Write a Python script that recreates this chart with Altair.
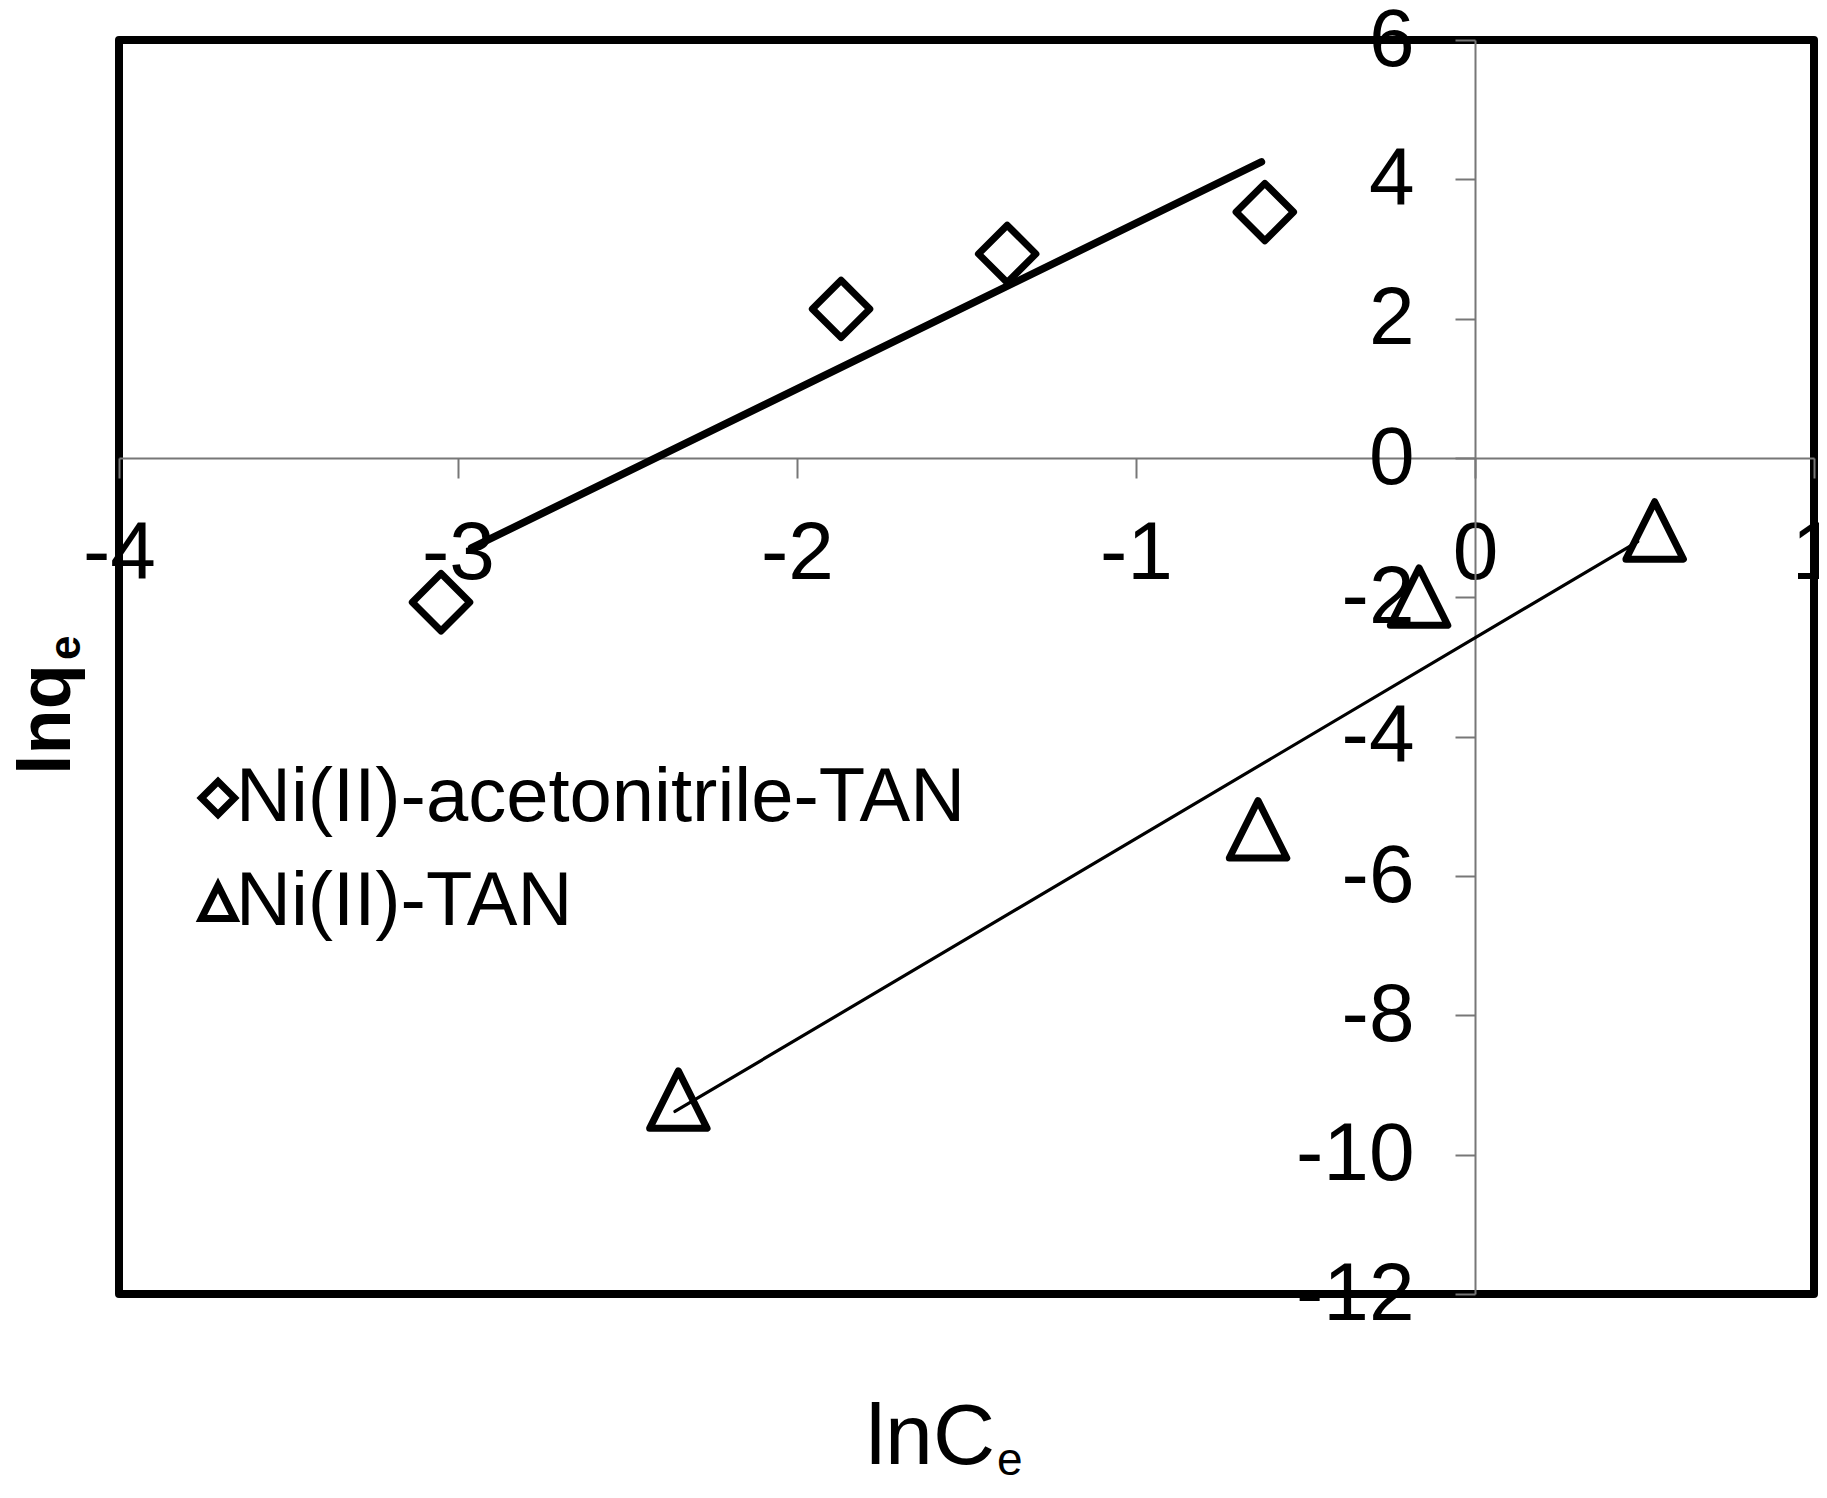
import altair as alt
import pandas as pd

# ---- data ----
series = ["Ni(II)-acetonitrile-TAN", "Ni(II)-TAN"]
acn_x = [-3.05, -1.87, -1.38, -0.62]
acn_y = [-2.07, 2.14, 2.93, 3.53]
tan_x = [-2.35, -0.64, -0.165, 0.53]
tan_y = [-9.21, -5.33, -1.99, -1.04]
acn_fit_x = [-2.96, -0.63]
acn_fit_y = [-1.29, 4.25]
tan_fit_x = [-2.36, 0.48]
tan_fit_y = [-9.38, -1.20]
x_ticks = [-4, -3, -2, -1, 0, 1]
y_ticks = [6, 4, 2, 0, -2, -4, -6, -8, -10, -12]
x_domain = [-4, 1]
y_domain = [-12, 6]
x_title = ["lnC", "e"]
y_title = ["lnq", "e"]

FONT = "Liberation Sans"
W, H = 1695, 1254
AXIS_GREY = "#777777"

pts = pd.DataFrame({
    "x": acn_x + tan_x,
    "y": acn_y + tan_y,
    "series": [series[0]] * len(acn_x) + [series[1]] * len(tan_x),
})
fit_acn = pd.DataFrame({"x": acn_fit_x, "y": acn_fit_y})
fit_tan = pd.DataFrame({"x": tan_fit_x, "y": tan_fit_y})

xscale = alt.Scale(domain=x_domain, nice=False, zero=False)
yscale = alt.Scale(domain=y_domain, nice=False, zero=False)

x_axis = alt.Axis(
    orient="bottom", offset=-H * 12 / 18, values=x_ticks, title=None,
    labelExpr="'' + datum.value", grid=False,
    domainColor=AXIS_GREY, domainWidth=2, tickColor=AXIS_GREY, tickWidth=2,
    tickSize=20, labelPadding=35, labelFontSize=82, labelFont=FONT,
    labelColor="black", labelFlush=False, labelOverlap=False, labelBound=False,
)
y_axis = alt.Axis(
    orient="left", offset=-W * 4 / 5, values=y_ticks, title=None,
    labelExpr="'' + datum.value", grid=False,
    domainColor=AXIS_GREY, domainWidth=2, tickColor=AXIS_GREY, tickWidth=2,
    tickSize=20, labelPadding=41, labelFontSize=82, labelFont=FONT,
    labelColor="black", labelFlush=False, labelOverlap=False, labelBound=False,
)

x_enc = alt.X("x:Q", scale=xscale, axis=x_axis)
y_enc = alt.Y("y:Q", scale=yscale, axis=y_axis)

tri_path = "M0,-1L1,1L-1,1Z"

line_acn = alt.Chart(fit_acn).mark_line(color="black", strokeWidth=7.5, strokeCap="round").encode(
    x=x_enc, y=y_enc
)
line_tan = alt.Chart(fit_tan).mark_line(color="black", strokeWidth=3.2, strokeCap="round").encode(
    x=x_enc, y=y_enc
)

points = alt.Chart(pts).mark_point(
    filled=False, color="black", strokeWidth=7, size=3300, opacity=1, strokeJoin="round"
).encode(
    x=x_enc, y=y_enc,
    shape=alt.Shape(
        "series:N",
        scale=alt.Scale(domain=series, range=["diamond", tri_path]),
        legend=alt.Legend(
            title=None, orient="none", legendX=61, legendY=720, padding=0,
            labelFontSize=76, labelFont=FONT, labelColor="black", labelLimit=2000,
            labelOffset={"expr": "-20"}, rowPadding=28, symbolSize=1100, symbolStrokeWidth=7,
            symbolStrokeColor="black", symbolFillColor="white", symbolOpacity=1,
        ),
    ),
)

xt = alt.Chart(pd.DataFrame({"t": [x_title[0]]})).mark_text(
    align="left", baseline="alphabetic", fontSize=86, font=FONT, color="black"
).encode(text="t:N", x=alt.value(747), y=alt.value(1424))
xs = alt.Chart(pd.DataFrame({"t": [x_title[1]]})).mark_text(
    align="left", baseline="alphabetic", fontSize=46, font=FONT, color="black"
).encode(text="t:N", x=alt.value(878), y=alt.value(1435))

yt = alt.Chart(pd.DataFrame({"t": [y_title[0]]})).mark_text(
    align="left", baseline="alphabetic", fontSize=74, font=FONT, fontWeight="bold",
    angle=270, color="black"
).encode(text="t:N", x=alt.value(-49), y=alt.value(735))
ys = alt.Chart(pd.DataFrame({"t": [y_title[1]]})).mark_text(
    align="left", baseline="alphabetic", fontSize=44, font=FONT, fontWeight="bold",
    angle=270, color="black"
).encode(text="t:N", x=alt.value(-39), y=alt.value(620))

chart = alt.layer(line_acn, line_tan, points, xt, xs, yt, ys).properties(
    width=W, height=H,
    background="white",
    autosize=alt.AutoSizeParams(type="none"),
    padding={"left": 111, "top": 32, "right": 5, "bottom": 188},
).configure_view(
    stroke="black", strokeWidth=8, strokeJoin="round"
)

chart.save("out.html", embed_options={"renderer": "svg", "actions": False})
